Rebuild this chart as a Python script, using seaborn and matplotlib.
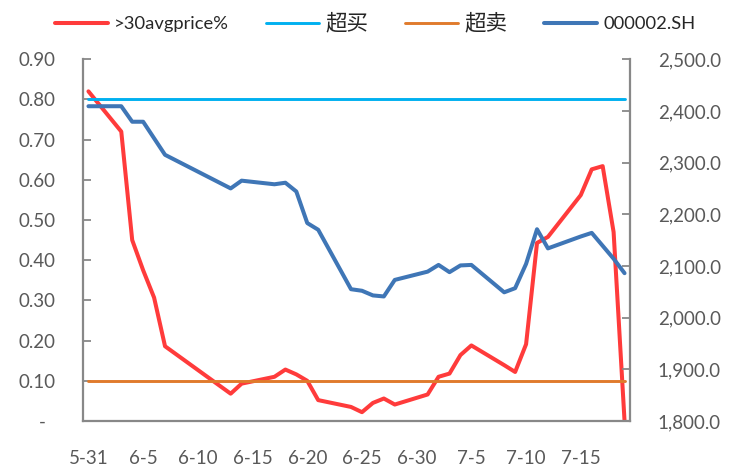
import numpy as np
import pandas as pd
import matplotlib.pyplot as plt
import seaborn as sns

# --- Data (2013 trading days) ---
trade_dates = ['5-31', '6-3', '6-4', '6-5', '6-6', '6-7', '6-13', '6-14', '6-17', '6-18',
               '6-19', '6-20', '6-21', '6-24', '6-25', '6-26', '6-27', '6-28', '7-1', '7-2',
               '7-3', '7-4', '7-5', '7-8', '7-9', '7-10', '7-11', '7-12', '7-15', '7-16',
               '7-17', '7-18', '7-19']
above_avg_pct = [0.820, 0.720, 0.450, 0.375, 0.307, 0.186, 0.068, 0.093, 0.110, 0.128,
                 0.116, 0.100, 0.052, 0.035, 0.022, 0.045, 0.056, 0.041, 0.066, 0.110,
                 0.118, 0.164, 0.188, 0.139, 0.122, 0.191, 0.443, 0.458, 0.562, 0.626,
                 0.634, 0.470, 0.000]
index_close = [2409, 2409, 2379, 2379, 2347, 2315, 2250, 2265, 2258, 2261,
               2244, 2183, 2170, 2055, 2052, 2043, 2041, 2073, 2089, 2102,
               2088, 2101, 2102, 2049, 2057, 2104, 2171, 2134, 2157, 2164,
               2139, 2114, 2086]
overbought = 0.80
oversold = 0.10

x_tick_labels = ['5-31', '6-5', '6-10', '6-15', '6-20', '6-25', '6-30', '7-5', '7-10', '7-15']
pct_ticks = [0.0, 0.1, 0.2, 0.3, 0.4, 0.5, 0.6, 0.7, 0.8, 0.9]
price_ticks = [1800, 1900, 2000, 2100, 2200, 2300, 2400, 2500]

# --- Styling ---
RED = '#FF3B3B'
CYAN = '#00B0F0'
ORANGE = '#E07B2C'
BLUE = '#3F76B6'
AXIS_GREY = '#888888'
TEXT_GREY = '#595959'

sns.set_style('white')
plt.rcParams['font.family'] = ['Lato', 'Noto Sans CJK SC', 'DejaVu Sans']
plt.rcParams['font.size'] = 13.5

start = pd.Timestamp('2013-05-31')


def day_pos(label):
    # each day sits in the middle of its own slot on the date axis
    return (pd.Timestamp('2013-' + label) - start).days + 0.5


df = pd.DataFrame({'date': trade_dates, 'pct': above_avg_pct, 'close': index_close})
df['x'] = df['date'].apply(day_pos)

bands = pd.DataFrame({'x': [df['x'].iloc[0], df['x'].iloc[-1]]})
bands['overbought'] = overbought
bands['oversold'] = oversold

fig, ax = plt.subplots(figsize=(7.33, 4.69), dpi=100)
fig.subplots_adjust(left=0.1132, right=0.8595, bottom=0.1023, top=0.8738)

sns.lineplot(data=df, x='x', y='pct', ax=ax, color=RED, linewidth=2.9, label='>30avgprice%')
sns.lineplot(data=bands, x='x', y='overbought', ax=ax, color=CYAN, linewidth=2.1, label='超买')
sns.lineplot(data=bands, x='x', y='oversold', ax=ax, color=ORANGE, linewidth=2.1, label='超卖')

ax2 = ax.twinx()
sns.lineplot(data=df, x='x', y='close', ax=ax2, color=BLUE, linewidth=2.9, label='000002.SH')

# --- Legend across the top ---
h1, l1 = ax.get_legend_handles_labels()
h2, l2 = ax2.get_legend_handles_labels()
ax.get_legend().remove()
ax2.get_legend().remove()
leg = fig.legend(h1 + h2, l1 + l2, loc='center', bbox_to_anchor=(0.512, 1 - 23 / 469), ncol=4,
                 frameon=False, handlelength=2.9, handletextpad=0.35, columnspacing=2.0,
                 fontsize=13.2)
for txt in leg.get_texts():
    txt.set_color('#262626')
    if txt.get_text() in ('超买', '超卖'):
        txt.set_fontsize(15.5)

# --- Axes ---
ax.set_xlim(0, 50)
ax.set_ylim(0, 0.9)
ax2.set_ylim(1800, 2500)

ax.set_yticks(pct_ticks, labels=['-  ' if v == 0 else f'{v:.2f}' for v in pct_ticks])
ax2.set_yticks(price_ticks, labels=[f'{v:,.1f}' for v in price_ticks])

ax.set_xticks(np.arange(0, 51, 5), labels=[])
ax.set_xticks([day_pos(l) for l in x_tick_labels], labels=x_tick_labels, minor=True)

ax.set_xlabel('')
ax.set_ylabel('')
ax2.set_ylabel('')

ax.tick_params(axis='y', direction='in', length=6, width=1.3, color=AXIS_GREY,
               labelcolor=TEXT_GREY, pad=20)
ax2.tick_params(axis='y', direction='in', length=6, width=1.3, color=AXIS_GREY,
                labelcolor=TEXT_GREY, pad=20)
ax.tick_params(axis='x', which='major', direction='out', length=7, width=1.3, color=AXIS_GREY)
ax.tick_params(axis='x', which='minor', length=0, labelcolor=TEXT_GREY, pad=21)

for a in (ax, ax2):
    a.spines['top'].set_visible(False)
    for side in ('left', 'right', 'bottom'):
        a.spines[side].set_color(AXIS_GREY)
        a.spines[side].set_linewidth(1.6)
ax.spines['right'].set_visible(False)
ax2.spines['left'].set_visible(False)
ax2.spines['bottom'].set_visible(False)

ax.grid(False)
ax2.grid(False)

plt.savefig('out.png', dpi=100)
plt.close()
